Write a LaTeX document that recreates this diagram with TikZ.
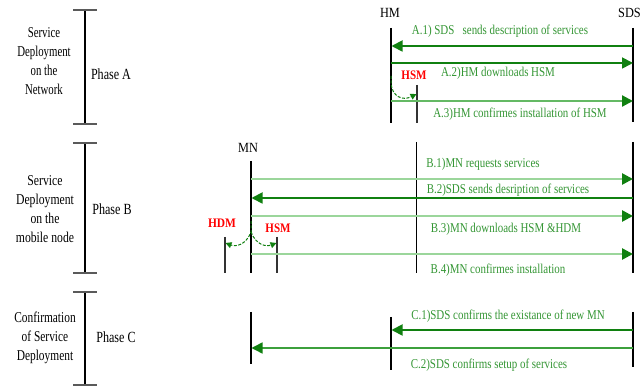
\documentclass[tikz,border=0pt]{standalone}
\usepackage{fontspec}
\setmainfont{Liberation Serif}
\usepackage{graphicx}
\usetikzlibrary{arrows.meta}
\definecolor{dkgreen}{RGB}{16,128,16}
\definecolor{txtgreen}{RGB}{52,150,52}
\definecolor{ltgreen}{RGB}{155,214,155}
\definecolor{mdgreen}{RGB}{60,160,60}
\definecolor{midlight}{RGB}{100,185,100}
\definecolor{capgray}{RGB}{90,90,90}
\newcommand{\sq}[2]{\scalebox{#1}[1]{#2}}
\begin{document}
\begin{tikzpicture}[x=1pt,y=-1pt,
  lifeline/.style={line width=1.3pt, black},
  shortline/.style={line width=1.1pt, black!80},
  brk/.style={line width=1.5pt, black},
  brkcap/.style={line width=2pt, capgray},
  msgtip/.style={-{Triangle[length=11pt,width=11pt,color=dkgreen]}},
  msgdark/.style={msgtip, draw=dkgreen, line width=1.8pt},
  msgmid/.style={msgtip, draw=midlight, line width=2.2pt},
  msglight/.style={msgtip, draw=ltgreen, line width=2.6pt},
  msgthin/.style={msgtip, draw=mdgreen, line width=1.5pt},
  selfmsg/.style={draw=dkgreen, line width=1pt, dash pattern=on 3pt off 1.5pt, -{Triangle[length=6pt,width=6pt]}},
  msglbl/.style={text=txtgreen, font=\fontsize{13.5}{15}\selectfont, inner sep=0pt},
  phasetxt/.style={font=\fontsize{15}{19}\selectfont, align=center, inner sep=0pt},
  phaselbl/.style={font=\fontsize{15.5}{17}\selectfont, inner sep=0pt},
  actor/.style={font=\fontsize{14}{15}\selectfont, inner sep=0pt},
  redlbl/.style={text=red, font=\bfseries\fontsize{13}{14}\selectfont, inner sep=0pt}
]
\useasboundingbox (0,0) rectangle (641,387);
\fill[white] (0,0) rectangle (641,387);

% ---------- phase brackets ----------
\coordinate (pAt) at (85,10);  \coordinate (pAb) at (85,124);
\coordinate (pBt) at (85,143); \coordinate (pBb) at (85,273);
\coordinate (pCt) at (85,292); \coordinate (pCb) at (85,385);
\foreach \t/\b in {pAt/pAb,pBt/pBb,pCt/pCb}{
  \draw[brk] (\t) -- (\b);
  \draw[brkcap] ([xshift=-12pt]\t) -- ([xshift=12pt]\t);
  \draw[brkcap] ([xshift=-12pt]\b) -- ([xshift=12pt]\b);
}
\node[phasetxt] (tA) at (44,61.5) {\sq{0.72}{Service}\\\sq{0.72}{Deployment}\\\sq{0.72}{on the}\\\sq{0.72}{Network}};
\node[phaselbl] (lA) at (111,74) {\sq{0.78}{Phase A}};
\node[phasetxt] (tB) at (45,209) {\sq{0.78}{Service}\\\sq{0.78}{Deployment}\\\sq{0.78}{on the}\\\sq{0.78}{mobile node}};
\node[phaselbl] (lB) at (112,209) {\sq{0.78}{Phase B}};
\node[phasetxt] (tC) at (45,338) {\sq{0.76}{Confirmation}\\\sq{0.76}{of Service}\\\sq{0.76}{Deployment}};
\node[phaselbl] (lC) at (116,337) {\sq{0.78}{Phase C}};

% ---------- actors ----------
\node[actor] (HM) at (390,13) {\sq{0.88}{HM}};
\node[actor] (SDS) at (629.5,13) {\sq{0.88}{SDS}};
\node[actor] (MN) at (248,148) {\sq{0.88}{MN}};

% ---------- phase A lifelines ----------
\coordinate (hmAt) at (391,28);  \coordinate (hmAb) at (391,123);
\coordinate (hsAt) at (417,85);  \coordinate (hsAb) at (417,123);
\coordinate (sdAt) at (633,28);  \coordinate (sdAb) at (633,122);
\draw[lifeline] (hmAt) -- (hmAb);
\draw[shortline] (hsAt) -- (hsAb);
\draw[lifeline] (sdAt) -- (sdAb);

\coordinate (a1s) at (633,46);  \coordinate (a1h) at (391.5,46);
\coordinate (a2h) at (391,63);  \coordinate (a2s) at (633,63);
\coordinate (a3h) at (391,101); \coordinate (a3s) at (633,101);
\draw[msgdark] (a1s) -- (a1h);
\draw[msgdark] (a2h) -- (a2s);
\draw[msgmid] (a3h) -- (a3s);
\node[msglbl] (A1) at (500,31) {\sq{0.81}{A.1) SDS~~ sends description of services}};
\node[msglbl] (A2) at (498,73) {\sq{0.81}{A.2)HM downloads HSM}};
\node[msglbl] (A3) at (520,114) {\sq{0.81}{A.3)HM confirmes installation of HSM}};
\node[redlbl] (hsmA) at (414,75) {\sq{0.85}{HSM}};
\coordinate (cA0) at (391,76); \coordinate (cA1) at (391,83); \coordinate (cA2) at (416.5,94);
\draw[selfmsg] (cA0) -- (cA1) .. controls (392,97) and (403,101) .. (cA2);

% ---------- phase B lifelines ----------
\coordinate (mnBt) at (251,161);  \coordinate (mnBb) at (251,273);
\coordinate (hmBt) at (416.5,142);\coordinate (hmBb) at (416.5,273);
\coordinate (sdBt) at (633,142);  \coordinate (sdBb) at (633,273);
\coordinate (hdBt) at (225,237);  \coordinate (hdBb) at (225,273);
\coordinate (hsBt) at (277,237);  \coordinate (hsBb) at (277,273);
\draw[lifeline] (mnBt) -- (mnBb);
\draw[lifeline] (hmBt) -- (hmBb);
\draw[lifeline] (sdBt) -- (sdBb);
\draw[shortline] (hdBt) -- (hdBb);
\draw[shortline] (hsBt) -- (hsBb);

\coordinate (b1m) at (251,179); \coordinate (b1s) at (633,179);
\coordinate (b2s) at (633,198); \coordinate (b2m) at (251.5,198);
\coordinate (b3m) at (251,216); \coordinate (b3s) at (633,216);
\coordinate (b4m) at (251,254); \coordinate (b4s) at (633,254);
\draw[msglight] (b1m) -- (b1s);
\draw[msgdark] (b2s) -- (b2m);
\draw[msglight] (b3m) -- (b3s);
\draw[msglight] (b4m) -- (b4s);
\node[msglbl] (B1) at (483,164) {\sq{0.81}{B.1)MN requests services}};
\node[msglbl] (B2) at (508,190) {\sq{0.81}{B.2)SDS sends desription of services}};
\node[msglbl] (B3) at (506,229) {\sq{0.81}{B.3)MN downloads HSM \&HDM}};
\node[msglbl] (B4) at (498,270) {\sq{0.81}{B.4)MN confirmes installation}};
\node[redlbl] (hdmB) at (222,223) {\sq{0.88}{HDM}};
\node[redlbl] (hsmB) at (278,228) {\sq{0.85}{HSM}};
\coordinate (cB0) at (251,221); \coordinate (cB1) at (251,232);
\coordinate (cBl) at (225.5,243); \coordinate (cBr) at (276.5,243);
\draw[selfmsg] (cB0) -- (cB1) .. controls (246,245) and (236,247) .. (cBl);
\draw[selfmsg] (cB1) .. controls (256,245) and (266,247) .. (cBr);

% ---------- phase C lifelines ----------
\coordinate (mnCt) at (251,312); \coordinate (mnCb) at (251,364);
\coordinate (hmCt) at (391,317); \coordinate (hmCb) at (391,370);
\coordinate (sdCt) at (633,312); \coordinate (sdCb) at (633,367);
\draw[lifeline] (mnCt) -- (mnCb);
\draw[lifeline] (hmCt) -- (hmCb);
\draw[lifeline] (sdCt) -- (sdCb);

\coordinate (c1s) at (633,330); \coordinate (c1h) at (391.5,330);
\coordinate (c2s) at (633,348); \coordinate (c2m) at (251.5,348);
\draw[msgdark] (c1s) -- (c1h);
\draw[msgthin] (c2s) -- (c2m);
\node[msglbl] (C1) at (508,316) {\sq{0.81}{C.1)SDS confirms the existance of new MN}};
\node[msglbl] (C2) at (489,365) {\sq{0.81}{C.2)SDS confirms setup of services}};
\end{tikzpicture}
\end{document}
